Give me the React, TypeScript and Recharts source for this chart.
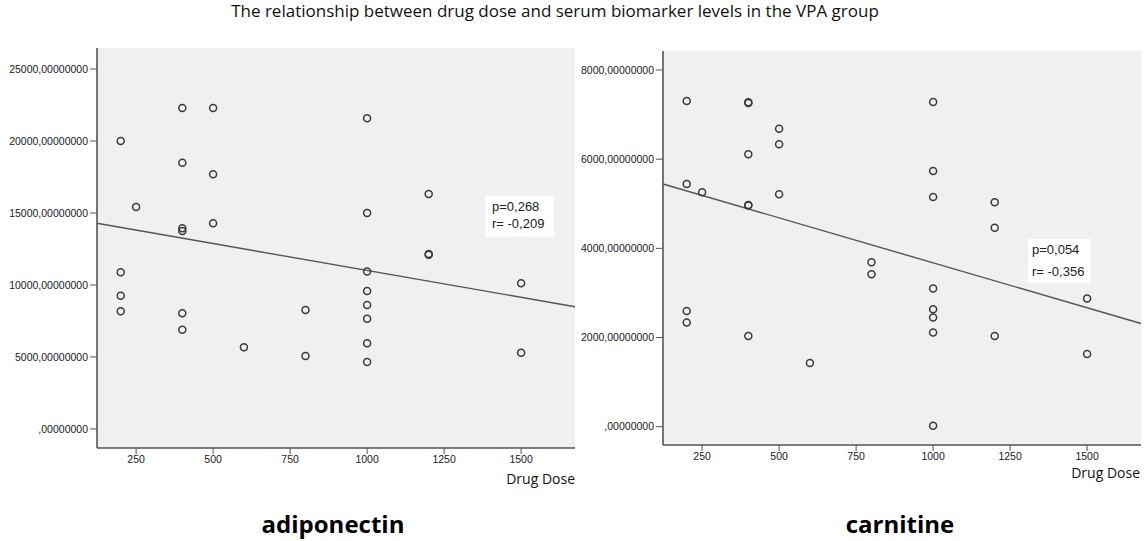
import { ScatterChart, Scatter, XAxis, YAxis, CartesianGrid, ReferenceLine } from 'recharts';

const doseTicks = [250, 500, 750, 1000, 1250, 1500];
const doseDomain = [123, 1675];

const adipoTicks = [0, 5000, 10000, 15000, 20000, 25000];
const adipoDomain = [-1320, 26460];
const adipoPoints = [
    { dose: 200, value: 20000 }, { dose: 200, value: 10880 }, { dose: 200, value: 9257 }, { dose: 200, value: 8174 },
    { dose: 250, value: 15420 },
    { dose: 400, value: 22290 }, { dose: 400, value: 18490 }, { dose: 400, value: 13940 }, { dose: 400, value: 13750 },
    { dose: 400, value: 8035 }, { dose: 400, value: 6896 },
    { dose: 500, value: 22290 }, { dose: 500, value: 17690 }, { dose: 500, value: 14285 },
    { dose: 600, value: 5674 },
    { dose: 800, value: 8264 }, { dose: 800, value: 5070 },
    { dose: 1000, value: 21576 }, { dose: 1000, value: 15000 }, { dose: 1000, value: 10930 }, { dose: 1000, value: 9583 },
    { dose: 1000, value: 8611 }, { dose: 1000, value: 7660 }, { dose: 1000, value: 5950 }, { dose: 1000, value: 4653 },
    { dose: 1200, value: 16319 }, { dose: 1200, value: 12150 }, { dose: 1200, value: 12100 },
    { dose: 1500, value: 10130 }, { dose: 1500, value: 5300 },
];
const adipoFit = [{ x: 123, y: 14285 }, { x: 1675, y: 8493 }];

const carniTicks = [0, 2000, 4000, 6000, 8000];
const carniDomain = [-410, 8426];
const carniPoints = [
    { dose: 200, value: 7305 }, { dose: 200, value: 5444 }, { dose: 200, value: 2596 }, { dose: 200, value: 2336 },
    { dose: 250, value: 5258 },
    { dose: 400, value: 7260 }, { dose: 400, value: 7275 }, { dose: 400, value: 6110 }, { dose: 400, value: 4960 },
    { dose: 400, value: 4975 }, { dose: 400, value: 2036 },
    { dose: 500, value: 6684 }, { dose: 500, value: 6334 }, { dose: 500, value: 5212 },
    { dose: 600, value: 1431 },
    { dose: 800, value: 3688 }, { dose: 800, value: 3419 },
    { dose: 1000, value: 7283 }, { dose: 1000, value: 5735 }, { dose: 1000, value: 5152 }, { dose: 1000, value: 3099 },
    { dose: 1000, value: 2635 }, { dose: 1000, value: 2448 }, { dose: 1000, value: 2112 }, { dose: 1000, value: 20 },
    { dose: 1200, value: 5033 }, { dose: 1200, value: 4464 }, { dose: 1200, value: 2036 },
    { dose: 1500, value: 2874 }, { dose: 1500, value: 1632 },
];
const carniFit = [{ x: 123, y: 5444 }, { x: 1675, y: 2314 }];

const tickFont = { fontSize: 10.5, fill: '#1a1a1a', fontFamily: 'Liberation Sans, Arial, sans-serif' };
const fmt = (v: number) => (v === 0 ? ',00000000' : `${v},00000000`);

const Ring = (props: any) => (
    <circle cx={props.cx} cy={props.cy} r={3.5} fill="none" stroke="#3a3a3a" strokeWidth={1.5} />
);

type PanelProps = {
    data: { dose: number; value: number }[];
    fit: { x: number; y: number }[];
    yTicks: number[];
    yDomain: number[];
    width: number;
    yWidth: number;
    margin: { top: number; right: number; bottom: number; left: number };
};

function Panel({ data, fit, yTicks, yDomain, width, yWidth, margin }: PanelProps) {
    return (
        <ScatterChart width={width} height={500} margin={margin}>
            <CartesianGrid fill="#f0f0f0" horizontal={false} vertical={false} />
            <XAxis xAxisId="top" orientation="top" type="number" domain={[0, 1]} height={0}
                tick={false} tickLine={false} axisLine={{ stroke: '#888', strokeWidth: 1.2 }} />
            <YAxis yAxisId="right" orientation="right" type="number" domain={[0, 1]} width={0}
                tick={false} tickLine={false} axisLine={{ stroke: '#aaa', strokeWidth: 1.2 }} />
            <XAxis dataKey="dose" type="number" domain={doseDomain} ticks={doseTicks} allowDataOverflow
                height={30} tick={tickFont} tickSize={6} tickLine={{ stroke: '#555' }}
                axisLine={{ stroke: '#555', strokeWidth: 1.6 }} />
            <YAxis dataKey="value" type="number" domain={yDomain} ticks={yTicks} allowDataOverflow
                width={yWidth} tick={tickFont} tickSize={7} tickFormatter={fmt} tickLine={{ stroke: '#555' }}
                axisLine={{ stroke: '#555', strokeWidth: 1.6 }} />
            <ReferenceLine segment={fit} stroke="#555" strokeWidth={1.4} ifOverflow="visible" />
            <Scatter data={data} shape={Ring} isAnimationActive={false} />
        </ScatterChart>
    );
}

const statBox = (left: number, top: number, w: number, h: number) => ({
    position: 'absolute' as const, left, top, width: w, height: h, background: '#fff',
    fontFamily: 'Liberation Sans, Arial, sans-serif', fontSize: 13, color: '#222',
    boxSizing: 'border-box' as const, padding: '2px 0 0 7px', lineHeight: '17px',
});

const openSans = 'Open Sans, Noto Sans, sans-serif';

export default function App() {
    return (
        <div style={{ position: 'absolute', left: 0, top: 0, width: 1144, height: 541, background: '#fff', overflow: 'hidden' }}>
            <div style={{ position: 'absolute', left: 0, top: 0, width: 1110, textAlign: 'center', fontFamily: openSans, fontSize: 17, lineHeight: '21px', color: '#111' }}>
                The relationship between drug dose and serum biomarker levels in the VPA group
            </div>
            <div style={{ position: 'absolute', left: 0, top: 0 }}>
                <Panel data={adipoPoints} fit={adipoFit} yTicks={adipoTicks} yDomain={adipoDomain}
                    width={580} yWidth={97} margin={{ top: 48, right: 5, bottom: 22, left: 0 }} />
            </div>
            <div style={{ position: 'absolute', left: 580, top: 0 }}>
                <Panel data={carniPoints} fit={carniFit} yTicks={carniTicks} yDomain={carniDomain}
                    width={564} yWidth={83} margin={{ top: 51, right: 3, bottom: 25, left: 0 }} />
            </div>
            <div style={statBox(485, 196, 69, 41)}>p=0,268<br />r= -0,209</div>
            <div style={{ ...statBox(1028, 239, 63, 44), lineHeight: '22px', padding: '0 0 0 4px' }}>p=0,054<br />r= -0,356</div>
            <div style={{ position: 'absolute', right: 1144 - 575, top: 469, fontFamily: openSans, fontSize: 14, color: '#111' }}>Drug Dose</div>
            <div style={{ position: 'absolute', right: 1144 - 1140, top: 463, fontFamily: openSans, fontSize: 14, color: '#111' }}>Drug Dose</div>
            <div style={{ position: 'absolute', left: 233, width: 200, top: 507, textAlign: 'center', fontFamily: openSans, fontSize: 24, fontWeight: 700, color: '#000' }}>adiponectin</div>
            <div style={{ position: 'absolute', left: 800, width: 200, top: 507, textAlign: 'center', fontFamily: openSans, fontSize: 24, fontWeight: 700, color: '#000' }}>carnitine</div>
        </div>
    );
}
